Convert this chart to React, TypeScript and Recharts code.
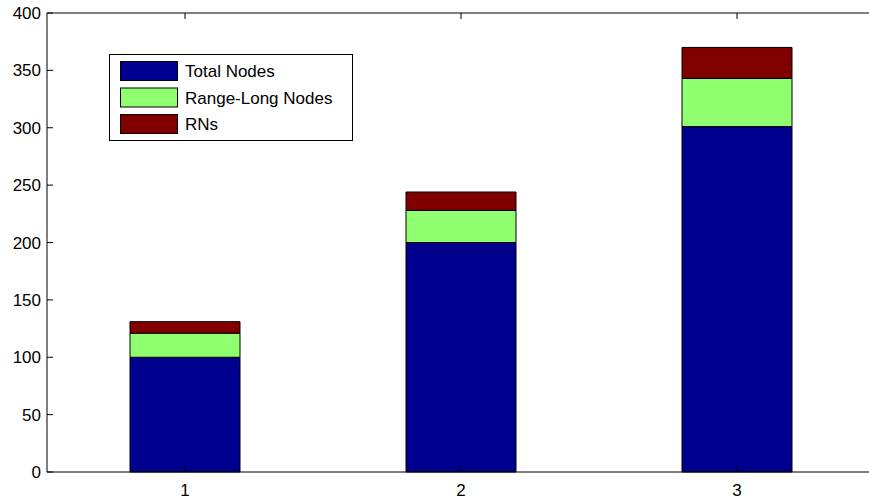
import React from 'react';
import { BarChart, Bar, XAxis, YAxis, Legend } from 'recharts';

// values
const categories = ['1', '2', '3'];
const totalNodes = [100, 200, 301];
const rangeLongNodes = [21, 28, 42];
const rns = [10, 16, 27];
const yTicks = [0, 50, 100, 150, 200, 250, 300, 350, 400];

const series = [
    { key: 'total', label: 'Total Nodes', color: '#00008F' },
    { key: 'range', label: 'Range-Long Nodes', color: '#8FFF70' },
    { key: 'rns', label: 'RNs', color: '#800000' },
];

const data = categories.map((name, i) => ({
    name,
    total: totalNodes[i],
    range: rangeLongNodes[i],
    rns: rns[i],
}));

const FONT = 'Liberation Sans, Arial, sans-serif';
const FS = 17;
const TICK = 6;

const LeftTick = (props: any) => {
    const { x, y, payload } = props;
    return (
        <g>
            <line x1={x} y1={y} x2={x + TICK} y2={y} stroke="#000" />
            <text x={x - 6} y={y + 6} textAnchor="end" fontSize={FS} fontFamily={FONT} fill="#000">
                {payload.value}
            </text>
        </g>
    );
};

// right frame edge is just past the visible area: only short inward ticks show
const RightTick = (props: any) => {
    const { x, y } = props;
    return <line x1={x} y1={y} x2={x - TICK} y2={y} stroke="#000" />;
};

const BottomTick = (props: any) => {
    const { x, y, payload } = props;
    return (
        <g>
            <line x1={x} y1={y} x2={x} y2={y - TICK} stroke="#000" />
            <text x={x} y={y + 24} textAnchor="middle" fontSize={FS} fontFamily={FONT} fill="#000">
                {payload.value}
            </text>
        </g>
    );
};

const TopTick = (props: any) => {
    const { x, y } = props;
    return <line x1={x} y1={y} x2={x} y2={y + TICK} stroke="#000" />;
};

const LegendBox = () => (
    <svg width={245} height={88} style={{ display: 'block' }}>
        <rect x={0.5} y={0.5} width={243} height={86} fill="#fff" stroke="#000" />
        {series.map((s, i) => (
            <g key={s.key}>
                <rect x={11.5} y={7.5 + i * 26.5} width={57} height={19} fill={s.color} stroke="#000" />
                <text x={76} y={23 + i * 26.5} fontSize={FS} fontFamily={FONT} fill="#000">
                    {s.label}
                </text>
            </g>
        ))}
    </svg>
);

export default function App() {
    return (
        <div style={{ position: 'absolute', left: 0, top: 0, width: 869, height: 501, overflow: 'hidden', background: '#fff' }}>
            <BarChart width={880} height={501} data={data} margin={{ top: 0, right: 5, bottom: 0, left: 0 }}>
                <XAxis
                    dataKey="name"
                    height={29}
                    tickSize={0}
                    tickMargin={0}
                    tickLine={false}
                    tick={<BottomTick />}
                    axisLine={{ stroke: '#000' }}
                />
                <XAxis
                    xAxisId="top"
                    dataKey="name"
                    orientation="top"
                    height={13}
                    tickSize={0}
                    tickMargin={0}
                    tickLine={false}
                    tick={<TopTick />}
                    axisLine={{ stroke: '#000' }}
                />
                <YAxis
                    domain={[0, 400]}
                    ticks={yTicks}
                    width={47}
                    tickSize={0}
                    tickMargin={0}
                    tickLine={false}
                    tick={<LeftTick />}
                    axisLine={{ stroke: '#000' }}
                    interval={0}
                />
                <YAxis
                    yAxisId="right"
                    orientation="right"
                    domain={[0, 400]}
                    ticks={yTicks}
                    width={0}
                    tickSize={0}
                    tickMargin={0}
                    tickLine={false}
                    tick={<RightTick />}
                    axisLine={false}
                    interval={0}
                />
                <Legend
                    layout="horizontal"
                    verticalAlign="middle"
                    align="center"
                    content={<LegendBox />}
                    wrapperStyle={{ left: 109, top: 54, width: 245, height: 88 }}
                />
                {series.map((s) => (
                    <Bar
                        key={s.key}
                        dataKey={s.key}
                        name={s.label}
                        stackId="a"
                        fill={s.color}
                        stroke="#000"
                        strokeWidth={1}
                        barSize={110}
                        isAnimationActive={false}
                    />
                ))}
            </BarChart>
        </div>
    );
}
